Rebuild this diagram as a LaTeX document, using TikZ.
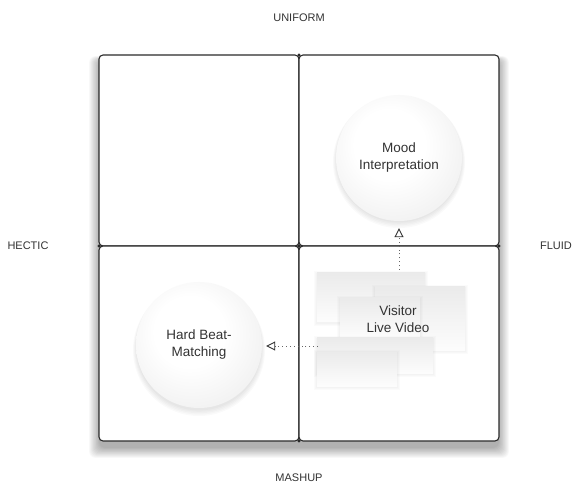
\documentclass[tikz,border=0pt]{standalone}
\usepackage{fontspec}
\setmainfont{Liberation Sans}
\usetikzlibrary{arrows.meta}
\definecolor{txt}{HTML}{333333}
\definecolor{edge}{HTML}{2A2A2A}
\pgfdeclareradialshading{softball}{\pgfpoint{-5bp}{7bp}}{%
  color(0bp)=(white); color(14bp)=(white); color(32bp)=(black!6); color(48bp)=(black!15); color(56bp)=(black!19)}
\begin{document}
\begin{tikzpicture}[x=1pt,y=-1pt,
  quad/.style={draw=edge, line width=1.1pt, fill=white, rounded corners=4pt},
  axislabel/.style={font=\fontsize{11}{13}\selectfont, text=txt},
  ball/.style={circle, minimum size=126pt, inner sep=0pt, shade, shading=softball,
     font=\fontsize{13.5}{17}\selectfont, text=txt, align=center},
  card/.style={top color=black!8, bottom color=black!1},
  flow/.style={draw=black!60, line width=0.9pt, dash pattern=on 0.9pt off 3pt,
     -{Triangle[open, length=9pt, width=9pt, line width=0.9pt, sep=0pt, color=black!80]}},
  dotnode/.style={circle, fill=edge, inner sep=0pt, minimum size=3.2pt}]
\useasboundingbox (0,0) rectangle (581,486);
\fill[white] (0,0) rectangle (581,486);
% soft shadow of the grid
\foreach \i in {1,...,12}{
  \fill[black, opacity=0.026, rounded corners=6pt] (99-\i*0.9+1,55-\i*0.4+6) rectangle (499+\i*0.9-1,441+\i*0.9+6);
}
% quadrants
\draw[quad] (99,55) rectangle (299,246);
\draw[quad] (299,55) rectangle (499,246);
\draw[quad] (99,246) rectangle (299,441);
\draw[quad] (299,246) rectangle (499,441);
\node[dotnode] (c) at (299,246) {};
\node[dotnode] (cl) at (99,246) {};
\node[dotnode] (cr) at (499,246) {};
\node[dotnode] (ct) at (299,55) {};
\node[dotnode] (cb) at (299,441) {};
% axis labels
\node[axislabel] (uniform) at (299,18) {UNIFORM};
\node[axislabel] (mashup) at (299,478) {MASHUP};
\node[axislabel] (hectic) at (28,246) {HECTIC};
\node[axislabel] (fluid) at (556,246) {FLUID};
% circle shadows
\foreach \i in {1,...,5}{
  \fill[black, opacity=0.02] (399,159+\i*0.6) circle (62+\i*0.8);
  \fill[black, opacity=0.02] (199,347+\i*0.6) circle (62+\i*0.8);
}
\node[ball] (mood) at (399,158) {Mood\\Interpretation};
\node[ball] (hard) at (199,345) {Hard Beat-\\Matching};
% video stack
\foreach \a/\b/\c/\d in {317/273/425/322, 375/287/465/350, 340/298/420/338, 317/338/433/373, 317/352/397/386}{
  \foreach \i in {1,...,3}{\fill[black, opacity=0.015] (\a-\i,\b-\i+1) rectangle (\c+\i,\d+\i+1);}
  \fill[card] (\a,\b) rectangle (\c,\d);
}
\node[font=\fontsize{13.5}{17}\selectfont, text=txt, align=center] (video) at (398,319) {Visitor\\Live Video};
\coordinate (vtop) at (399,270);
\coordinate (vleft) at (318,346);
\draw[flow, shorten >=7pt] (vtop) -- (mood.south);
\draw[flow, shorten >=4pt] (vleft) -- (hard.east |- vleft);
\end{tikzpicture}
\end{document}
